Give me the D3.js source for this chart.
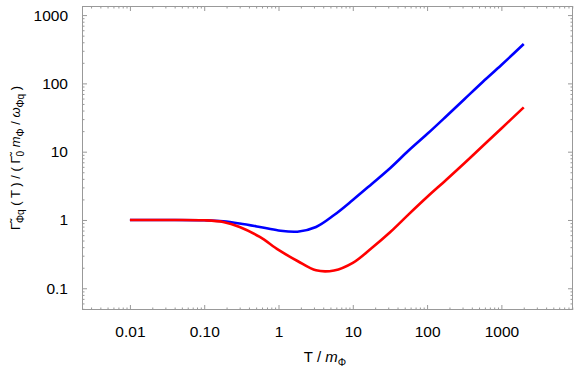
<!DOCTYPE html>
<html lang="en">
<head>
  <meta charset="UTF-8">
  <title>Gamma ratio vs T / m</title>
  <script src="https://d3js.org/d3.v7.min.js"></script>
  <style>
    body { margin: 0; background: #fff; }
    svg { display: block; font-family: 'Liberation Sans', Arial, sans-serif; }
    .tick text { font-size: 15.5px; fill: #000; }
  </style>
</head>
<body>
  <div id="chart"></div>
  <script>
    // values
    const temps = [0.01, 0.03, 0.1, 0.18, 0.3, 0.56, 1, 1.8, 3.2, 5.6, 10, 18, 32, 56, 100, 180, 320, 560, 1000, 2000];
    const blue  = [1.0, 1.0, 0.99, 0.957, 0.889, 0.79, 0.702, 0.674, 0.79, 1.18, 1.96, 3.37, 5.77, 10.3, 18.1, 32.8, 59.2, 105, 186, 377];
    const red   = [1.0, 1.0, 0.99, 0.935, 0.79, 0.564, 0.364, 0.251, 0.183, 0.182, 0.235, 0.389, 0.667, 1.20, 2.17, 3.85, 6.84, 12.1, 21.9, 44.5];
    const xMajor = [0.01, 0.1, 1, 10, 100, 1000];
    const xLabels = ["0.01", "0.10", "1", "10", "100", "1000"];
    const yMajor = [0.1, 1, 10, 100, 1000];
    const yLabels = ["0.1", "1", "10", "100", "1000"];

    const width = 581, height = 372;
    const margin = { top: 6, right: 8, bottom: 62, left: 82 };

    const x = d3.scaleLog()
      .domain([Math.pow(10, -2.645), Math.pow(10, 3.964)])
      .range([margin.left, width - margin.right]);
    const y = d3.scaleLog()
      .domain([Math.pow(10, -1.318), Math.pow(10, 3.133)])
      .range([height - margin.bottom, margin.top]);

    function minorTicks(scale) {
      const [a, b] = scale.domain();
      const out = [];
      for (let e = Math.floor(Math.log10(a)); e <= Math.ceil(Math.log10(b)); e++) {
        for (let m = 2; m <= 9; m++) {
          const v = m * Math.pow(10, e);
          if (v >= a && v <= b) out.push(v);
        }
      }
      return out;
    }

    const svg = d3.select("#chart").append("svg")
      .attr("width", width)
      .attr("height", height);

    const x0 = margin.left, x1 = width - margin.right;
    const y0 = height - margin.bottom, y1 = margin.top;
    const frameColor = "#999";
    const major = 5, minor = 2.5;

    function styleAxis(g) {
      g.select(".domain").remove();
      g.selectAll(".tick line").attr("stroke", frameColor);
    }

    // bottom
    svg.append("g").attr("transform", `translate(0,${y0})`)
      .call(d3.axisBottom(x).tickValues(xMajor).tickSizeInner(-major).tickPadding(16)
        .tickFormat((d, i) => xLabels[i]))
      .call(styleAxis);
    svg.append("g").attr("transform", `translate(0,${y0})`)
      .call(d3.axisBottom(x).tickValues(minorTicks(x)).tickSizeInner(-minor).tickFormat(""))
      .call(styleAxis);
    // top
    svg.append("g").attr("transform", `translate(0,${y1})`)
      .call(d3.axisTop(x).tickValues(xMajor).tickSizeInner(-major).tickFormat(""))
      .call(styleAxis);
    svg.append("g").attr("transform", `translate(0,${y1})`)
      .call(d3.axisTop(x).tickValues(minorTicks(x)).tickSizeInner(-minor).tickFormat(""))
      .call(styleAxis);
    // left
    svg.append("g").attr("transform", `translate(${x0},0)`)
      .call(d3.axisLeft(y).tickValues(yMajor).tickSizeInner(-major).tickPadding(14)
        .tickFormat((d, i) => yLabels[i]))
      .call(styleAxis);
    svg.append("g").attr("transform", `translate(${x0},0)`)
      .call(d3.axisLeft(y).tickValues(minorTicks(y)).tickSizeInner(-minor).tickFormat(""))
      .call(styleAxis);
    // right
    svg.append("g").attr("transform", `translate(${x1},0)`)
      .call(d3.axisRight(y).tickValues(yMajor).tickSizeInner(-major).tickFormat(""))
      .call(styleAxis);
    svg.append("g").attr("transform", `translate(${x1},0)`)
      .call(d3.axisRight(y).tickValues(minorTicks(y)).tickSizeInner(-minor).tickFormat(""))
      .call(styleAxis);

    svg.append("rect")
      .attr("x", x0 + 0.5).attr("y", y1 + 0.5)
      .attr("width", x1 - x0 - 1).attr("height", y0 - y1 - 1)
      .attr("fill", "none").attr("stroke", frameColor);

    const line = d3.line()
      .x(d => x(d[0]))
      .y(d => y(d[1]))
      .curve(d3.curveCatmullRom.alpha(0.5));

    svg.append("path")
      .datum(temps.map((t, i) => [t, blue[i]]))
      .attr("fill", "none").attr("stroke", "#0000ff").attr("stroke-width", 2.6)
      .attr("d", line);
    svg.append("path")
      .datum(temps.map((t, i) => [t, red[i]]))
      .attr("fill", "none").attr("stroke", "#ff0000").attr("stroke-width", 2.6)
      .attr("d", line);

    // axis titles
    const xt = svg.append("text")
      .attr("x", 325).attr("y", 362)
      .attr("text-anchor", "middle")
      .attr("font-size", 15);
    xt.append("tspan").text("T /  ");
    xt.append("tspan").attr("font-style", "italic").text("m");
    xt.append("tspan").attr("font-size", 10.5).attr("dy", 4).text("Φ");

    const yt = svg.append("text")
      .attr("transform", "translate(20,158) rotate(-90)")
      .attr("text-anchor", "middle")
      .attr("font-size", 13);
    const parts = [
      ["Γ\u0303", null, 0],
      ["Φq", "sub", 4],
      [" ( T ) / ( Γ\u0303", null, -4],
      ["0", "sub", 4],
      [" m", "it", -4],
      ["Φ", "sub", 4],
      [" / ", null, -4],
      ["ω", "it", 0],
      ["Φq", "sub", 4],
      [" )", null, -4]
    ];
    parts.forEach(([s, kind, dy]) => {
      const ts = yt.append("tspan").attr("dy", dy).text(s);
      if (kind === "sub") ts.attr("font-size", 10);
      if (kind === "it") ts.attr("font-style", "italic");
    });
  </script>
</body>
</html>
